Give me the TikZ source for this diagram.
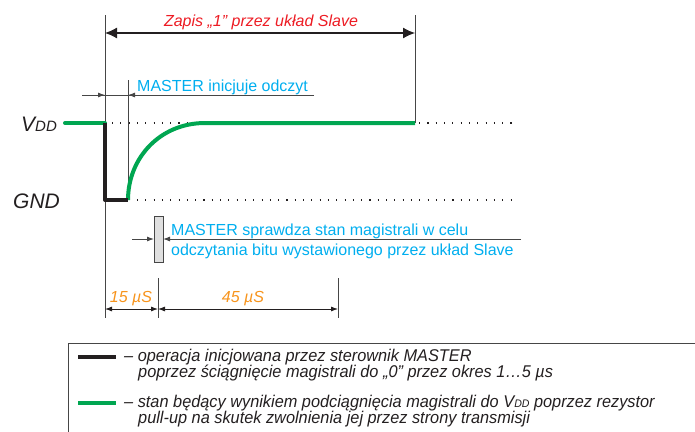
\documentclass[tikz,border=0pt]{standalone}
\usepackage{fontspec}
\setmainfont{Liberation Sans}
\newfontfamily\legfont[FakeStretch=0.96]{Liberation Sans}
\usetikzlibrary{arrows.meta}
\definecolor{sgreen}{RGB}{0,166,81}
\definecolor{sblack}{RGB}{35,31,32}
\definecolor{scyan}{RGB}{0,174,239}
\definecolor{sred}{RGB}{237,28,36}
\definecolor{sorange}{RGB}{247,148,29}
\definecolor{sgrey}{RGB}{70,70,70}
\begin{document}
\begin{tikzpicture}[x=1pt,y=-1pt,
  thinline/.style={draw=sgrey, line width=0.9pt},
  sig/.style={line width=4pt},
  dots/.style={draw=sblack, line width=1.1pt, dash pattern=on 1.1pt off 7.2pt},
  lbl/.style={inner sep=0pt, anchor=base west, font=\fontsize{16}{19}\selectfont},
  ital/.style={inner sep=0pt, anchor=base west, font=\fontsize{16}{19}\selectfont\itshape},
  big/.style={inner sep=0pt, anchor=base west, font=\fontsize{21}{24}\selectfont\itshape, text=sblack},
  leg/.style={inner sep=0pt, anchor=base west, font=\legfont\fontsize{17}{19}\selectfont\itshape, text=sblack},
  small arrow/.style={-{Latex[length=7pt,width=5pt]}},
  dimarrow/.style={draw=sblack, line width=0.8pt, {Latex[length=7pt,width=5pt]}-{Latex[length=7pt,width=5pt]}},
]
\useasboundingbox (0,0) rectangle (695,431);

% reference dotted levels
\draw[dots] (112,123) -- (518,123);
\draw[dots] (137,200) -- (518,200);

% vertical guide lines
\coordinate (a0) at (105,15);  \coordinate (a1) at (105,318);
\coordinate (b0) at (415,15);  \coordinate (b1) at (415,123);
\coordinate (c0) at (128,80);  \coordinate (c1) at (128,200);
\coordinate (d0) at (158,278); \coordinate (d1) at (158,318);
\coordinate (e0) at (338,278); \coordinate (e1) at (338,318);
\draw[thinline] (a0) -- (a1);
\draw[thinline] (b0) -- (b1);
\draw[thinline] (c0) -- (c1);
\draw[thinline] (d0) -- (d1);
\draw[thinline] (e0) -- (e1);

% top dimension
\coordinate (ta) at (105,33); \coordinate (tb) at (415,33);
\draw[draw=sblack, line width=1.1pt, {Latex[length=12pt,width=11pt]}-{Latex[length=12pt,width=11pt]}] (ta) -- (tb);
\node[ital, anchor=base, text=sred] (zapis) at (261,26) {Zapis „1” przez układ Slave};

% MASTER inicjuje odczyt
\coordinate (m0) at (82,95); \coordinate (m1) at (105,95);
\coordinate (m2) at (128,95); \coordinate (m3) at (314,95);
\draw[thinline] (m0) -- (m3);
\draw[thinline, small arrow] (m0) -- (m1);
\draw[thinline, small arrow] (m3) -- (m2);
\node[lbl, text=scyan] (inic) at (137,91) {MASTER inicjuje odczyt};

% labels
\node[big] (vdd) at (21,131) {V\raisebox{-0.5pt}{\fontsize{15}{16}\selectfont DD}};
\node[big] (gnd) at (13,208) {GND};

% signals
\draw[sig, sgreen, line cap=round] (65,123) -- (105,123);
\draw[sig, sgreen] (128,200) .. controls (128,158) and (160,123) .. (205,123) -- (415,123);
\draw[sig, sblack, line join=round] (105,123) -- (105,200) -- (128,200);

% sampling window
\draw[draw=sgrey, fill=gray!25, line width=0.8pt] (154,216) rectangle (163,262);
\coordinate (s0) at (132,239); \coordinate (s1) at (154,239);
\coordinate (s2) at (163,239); \coordinate (s3) at (521,239);
\draw[thinline, small arrow] (s0) -- (s1);
\draw[thinline, small arrow] (s3) -- (s2);
\node[lbl, text=scyan] (spr1) at (171,235) {MASTER sprawdza stan magistrali w celu};
\node[lbl, text=scyan] (spr2) at (171,255) {odczytania bitu wystawionego przez układ Slave};

% timing dimensions
\coordinate (p0) at (105,309); \coordinate (p1) at (158,309); \coordinate (p2) at (338,309);
\draw[dimarrow] (p0) -- (p1);
\draw[dimarrow] (p1) -- (p2);
\node[ital, anchor=base, text=sorange] (t15) at (131,302) {15 µS};
\node[ital, anchor=base, text=sorange] (t45) at (243,302) {45 µS};

% legend
\draw[thinline] (68,445) -- (68,343) -- (705,343);
\draw[sig, sblack] (78,357) -- (116,357);
\draw[sig, sgreen] (78,403) -- (116,403);
\node[leg] (l1) at (124,361) {– operacja inicjowana przez sterownik MASTER};
\node[leg] (l2) at (138,377) {poprzez ściągnięcie magistrali do „0” przez okres 1…5 µs};
\node[leg] (l3) at (124,407) {– stan będący wynikiem podciągnięcia magistrali do V{\fontsize{11}{12}\selectfont DD} poprzez rezystor};
\node[leg] (l4) at (138,423) {pull-up na skutek zwolnienia jej przez strony transmisji};
\end{tikzpicture}
\end{document}
